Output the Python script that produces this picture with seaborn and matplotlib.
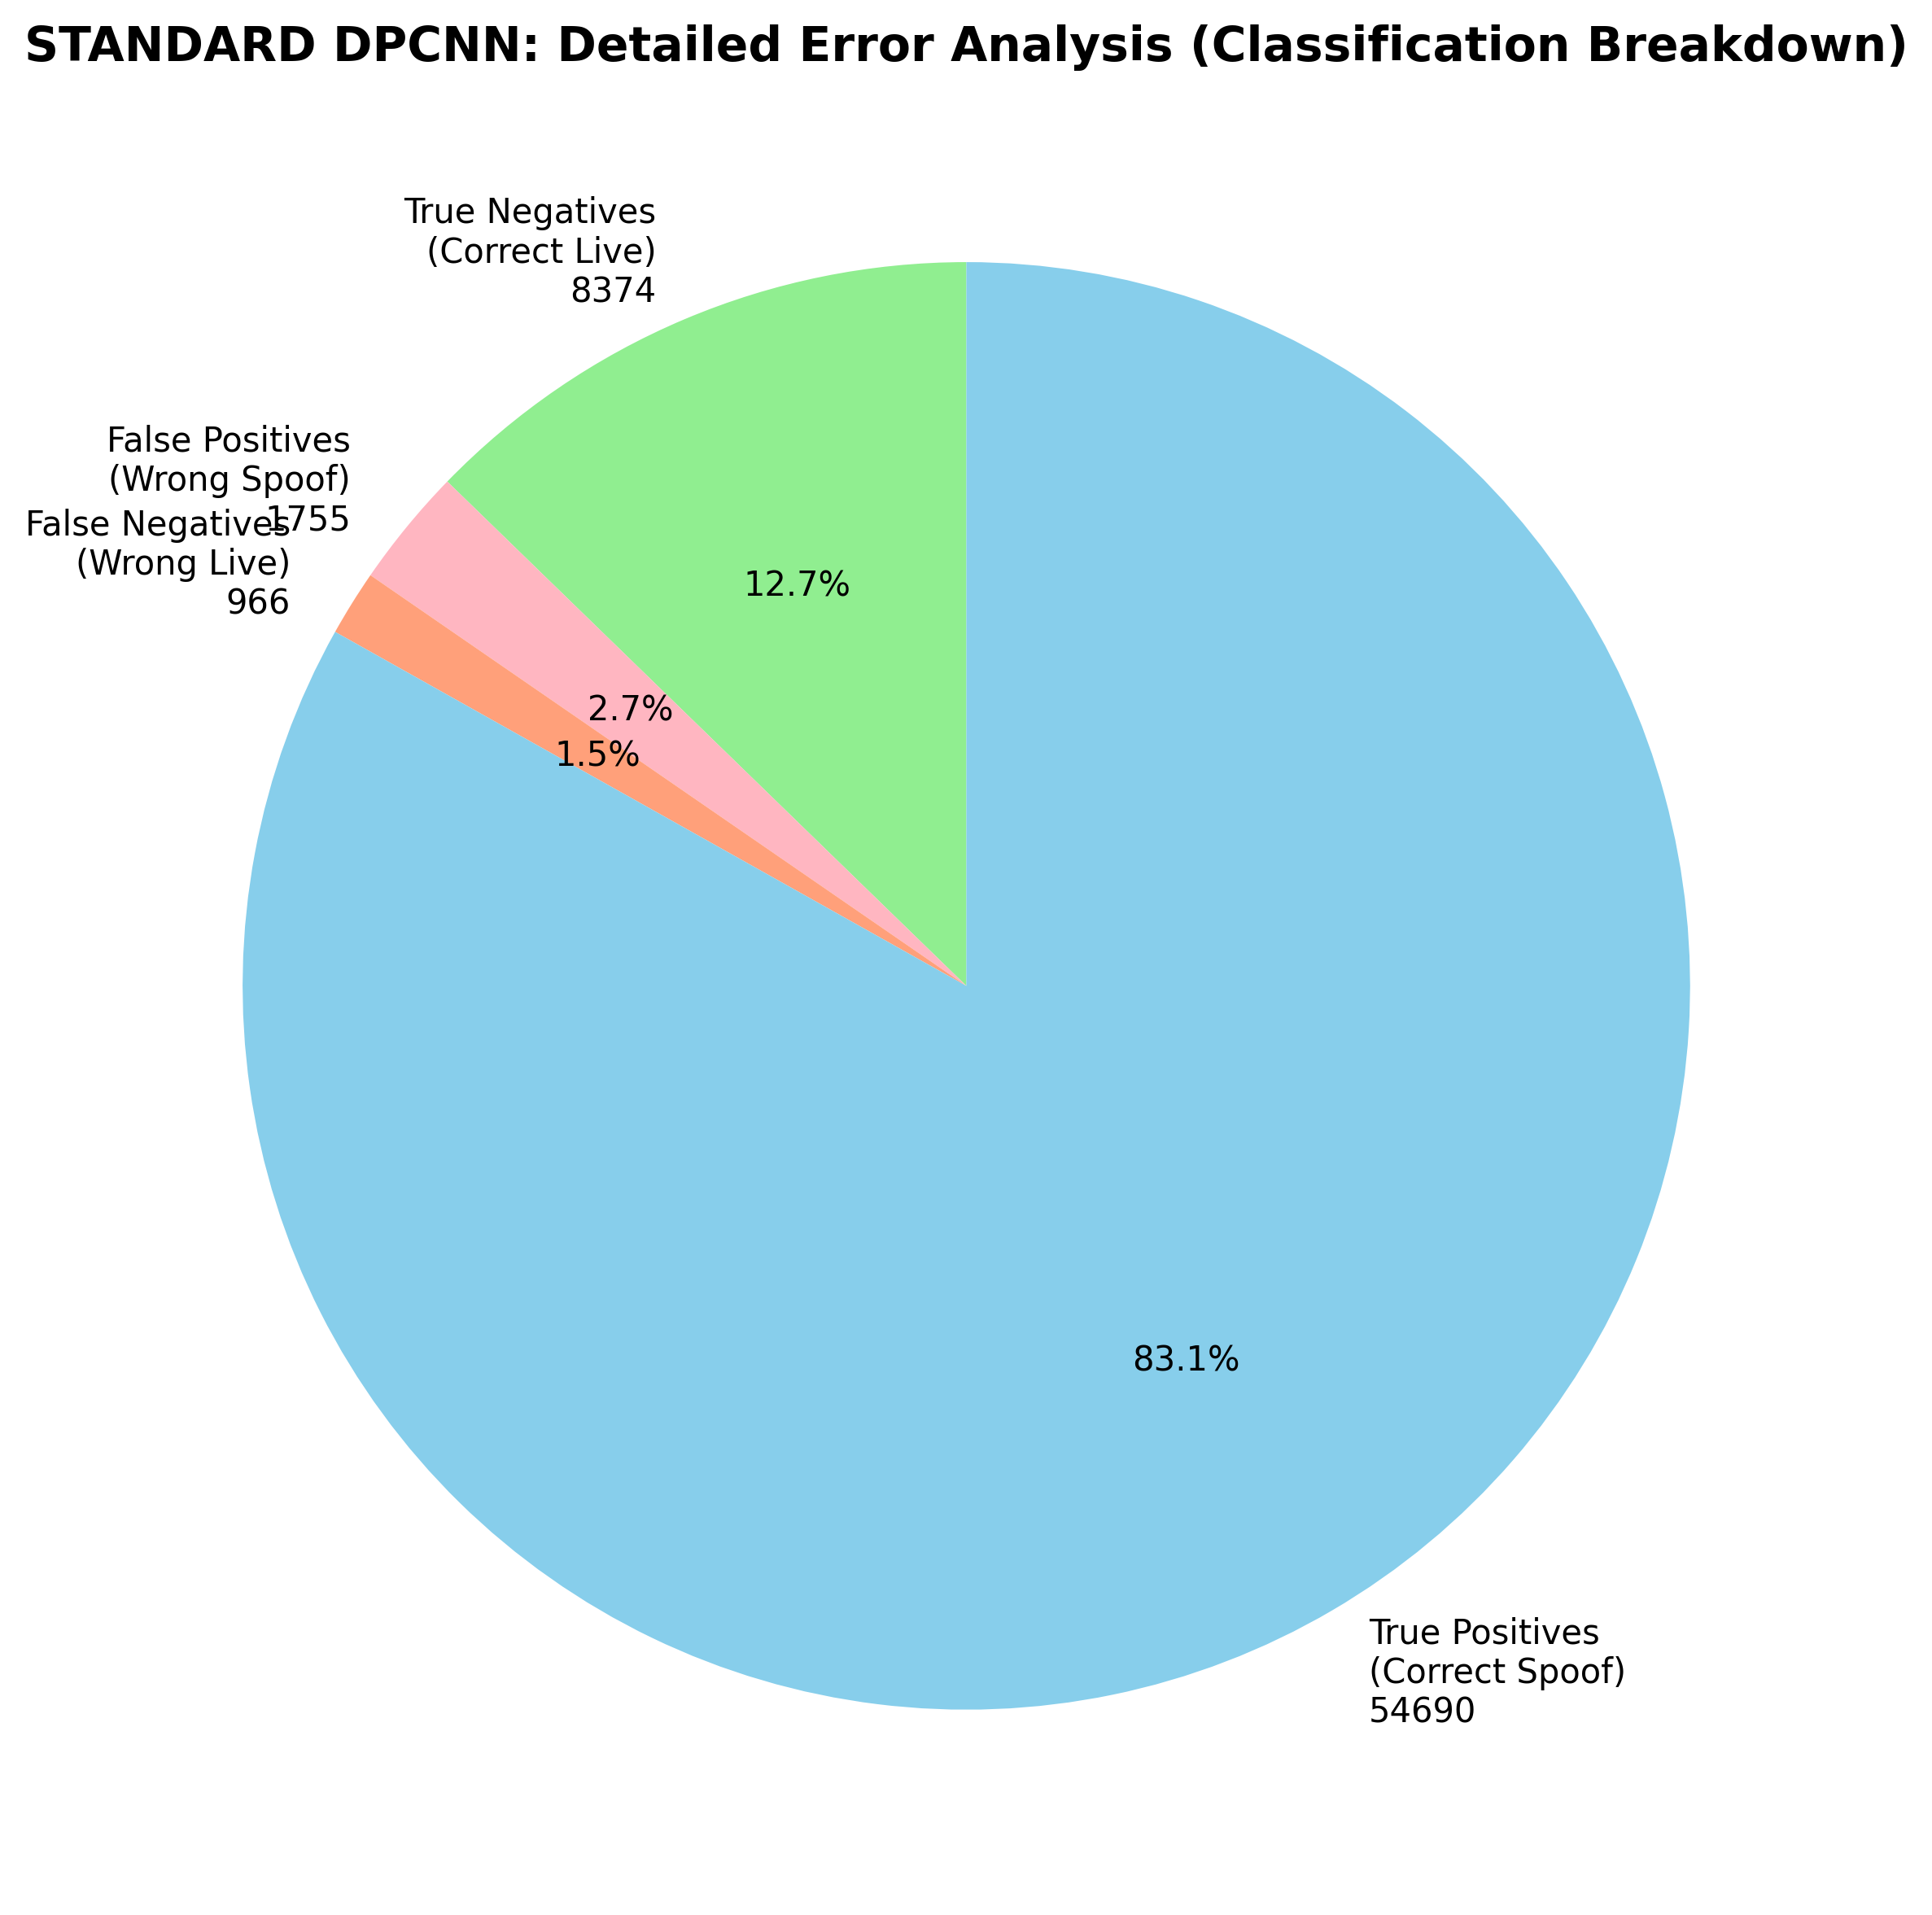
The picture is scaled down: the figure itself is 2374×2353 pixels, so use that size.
import matplotlib
matplotlib.use("Agg")
import matplotlib.pyplot as plt
import seaborn as sns

sns.set_style("white")
plt.rcParams['font.family'] = ['DejaVu Sans']
plt.rcParams['text.color'] = 'black'

categories = ["True Negatives\n(Correct Live)", "False Positives\n(Wrong Spoof)",
              "False Negatives\n(Wrong Live)", "True Positives\n(Correct Spoof)"]
counts = [8374, 1755, 966, 54690]
colors = ["lightgreen", "lightpink", "lightsalmon", "skyblue"]
title = "STANDARD DPCNN: Detailed Error Analysis (Classification Breakdown)"

labels = [f"{c}\n{n}" for c, n in zip(categories, counts)]

fig, ax = plt.subplots(figsize=(8, 8))
ax.pie(counts, labels=labels, colors=colors, autopct="%1.1f%%", startangle=90,
       textprops={"fontsize": 10, "color": "black"},
       wedgeprops={"linewidth": 0, "edgecolor": "none"})
ax.set_title(title, fontsize=14, fontweight="bold", color="black")
plt.tight_layout()
fig.savefig("out.png", dpi=300, bbox_inches="tight", facecolor="white")
